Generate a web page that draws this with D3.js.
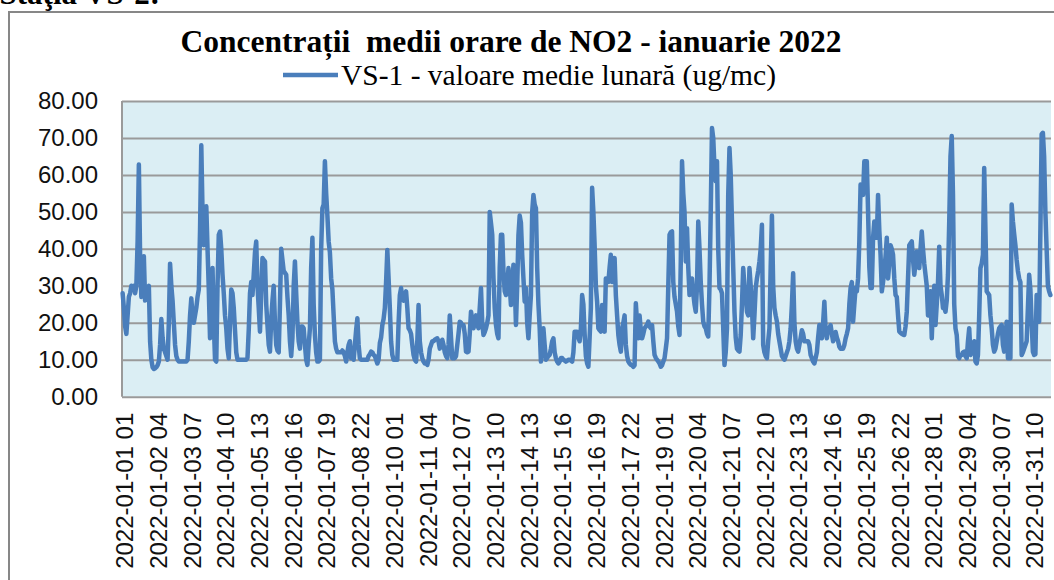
<!DOCTYPE html>
<html>
<head>
<meta charset="utf-8">
<script src="https://cdn.jsdelivr.net/npm/d3@7"></script>
<style>
  html, body { margin: 0; padding: 0; background: #fff; }
  svg { display: block; }
</style>
</head>
<body>
<svg id="chart" width="1054" height="580"></svg>
<script>
// ---- DATA ----
const title = "Concentrații  medii orare de NO2 - ianuarie 2022";
const seriesName = "VS-1 - valoare medie lunară (ug/mc)";
const yTicks = [0, 10, 20, 30, 40, 50, 60, 70, 80];
const tickLabels = [
  "2022-01-01 01","2022-01-02 04","2022-01-03 07","2022-01-04 10","2022-01-05 13",
  "2022-01-06 16","2022-01-07 19","2022-01-08 22","2022-01-10 01","2022-01-11 04",
  "2022-01-12 07","2022-01-13 10","2022-01-14 13","2022-01-15 16","2022-01-16 19",
  "2022-01-17 22","2022-01-19 01","2022-01-20 04","2022-01-21 07","2022-01-22 10",
  "2022-01-23 13","2022-01-24 16","2022-01-25 19","2022-01-26 22","2022-01-28 01",
  "2022-01-29 04","2022-01-30 07","2022-01-31 10"
];
const tickEvery = 27; // one label every 27 hourly categories
// hourly values (ug/mc), 24 per row, starting 2022-01-01 01:00
const values = [
  28,24,19,17,22,27,28,30,29,30,28,30,42,62.8,38,27,32,38,26,27,29,30,15,10,
  8,7.5,7.7,8,8.5,9.5,14,21,16,13,12,11,10,20,36,30,26,20,14,11,10,9.5,9.5,9.5,
  9.5,9.5,9.5,9.5,10,15,22,26.6,22,20,22,24,27,29,45,68,50,41,45,51.5,40,29,15.8,30,
  34.8,20,10,9.5,30,43.8,44.7,40,33,28,22,18.5,13,10.4,20,29,28,24,18,12,10,10,10,10,
  10,10,10,10,10.5,18,28,31,27.5,33,39,42,30,24,17.6,28,37.5,37,36.6,25,19.4,14,12.2,21,
  26,30,20,14,12.5,12,25,40,37,34,33.5,33,27,22,15,11,16,30,36.6,28,20,15,13,19,
  19,18.5,14,10,8.6,14,18.5,35,43,25,16.7,12,9.5,9.5,10,40,51,52,63.7,55,49,42,39,32,
  29,22,15,13,12,12,12,12,12.5,12,11,9.5,12,14,15,10.4,12,10,14,18,21.2,14,10.4,10,
  10,10,10,10,10,11,11.5,12.2,12,11.3,11,10,9,10,14.5,16,19.4,21,24,31,39.7,32,24,15,
  11.3,10,10,10,10,20,27.5,29.4,27,26,27,28.5,24,18.5,18,17,14,11.3,10,9.5,15,24.8,15,12,
  10.4,9.5,9,9,8.6,10,13,14,15,15,15.4,15.6,15.8,15,13,14,15.4,14,12,11,10.4,14,22,16,
  10.4,10.4,10.4,11,14,17,20.3,20,19.4,19.4,17,12.2,12,12.2,17,23,21,18.5,20,22,20,18.5,24,29.4,
  20,16.7,17.5,18.5,20,22,50,47,43.8,32,24,19.4,17,15.8,35,43.8,43.8,34,28.5,27.5,30,34.8,30,24.8,
  30,35.7,31,19.4,30,43.8,49,47,38.4,32,25.7,29.4,20,15.8,22,27.5,50,54.6,52,51,34.8,25,18.5,9.5,
  14,18.5,14,10,10.5,11,11.3,13,15,15.8,12,10.4,9.5,9,9.5,10.5,10.5,10,9.8,9.5,9.7,10,10,9.8,
  9.5,12,17.6,17.6,17.6,16,15,18.5,27.5,25,17,11,9,8.1,16,24,56.5,50,41,30,25.7,18.5,18,17.6,
  24.8,20,17.6,32,31,31,35,38.4,31,34,37.5,27.5,22,16.7,14,12.2,18.5,20,22,14,11,9.5,9,8.6,
  8.5,8.1,8.5,25.3,20,15.8,22,18,15.8,17,18.5,19,19.5,20.3,19,18.5,19.4,15,11.3,10.5,10,9.5,9,8.1,
  8.5,9.5,10.4,13,15.8,30,43.8,44.5,44.7,31,27,25,23,19,16.7,36.6,63.7,55,50,36.6,45.6,35,27.5,30,
  32,28,25,23,30,47.4,40,31,25,20.3,19,18.5,17,16.3,30,50,72.7,70,62,58.3,63.7,40,29.4,29,
  28,18.5,8.6,12,18.5,54.6,67.3,60,47.4,35,23,16,13,12.5,12.2,16.7,25,34.8,30,27.5,23,22,34.8,30,
  24,15.8,22,29.4,32,34,36.6,40,46.5,14,12,11,10.4,15,18.5,35,49,30,24,22,20.3,17,15,13,
  11,10.5,10,11,12,13,15,18.5,25,33.4,20,15,13,12.2,14,16,18,17,15,15,15,15,14,11.3,
  10.4,9.5,9,10.5,12,16,19.4,17,15.8,20,25.7,18,15.8,18.5,18.5,19.4,17,15,16,17.5,16,15,13.5,13,
  13,13,14,15.8,17,18.5,25,29.4,31,20.3,25,29.4,28.5,32,42,57.4,56,54.6,63.7,63.7,63.7,50,35,29.4,
  29.4,43,47.4,45,43,54.6,45,38.4,28.5,31,34,38,43,32,36,41,40,38.4,32,27.5,27,22,17.6,17.3,
  17,16.8,16.7,19,23,32,41,41.5,42,37,33,36,39.3,37,34.8,40,44.7,40,36,33,30,22,24,28.5,
  15.8,25,30,19.4,25,31,40.6,30,27.5,24,24,23,26,33,47.4,65,70.5,54.6,25,18.5,16.7,11,10.4,11.3,
  11.3,12,12.2,11,10.4,15,18.5,11.3,12,14,15,9.5,9,11.3,22,34.8,36,38.4,61.9,45,28.5,28,27.5,22,
  18.5,14,12.2,13,15,17,18.5,19,19.4,14,12.2,16,20.3,10.4,10.4,10.4,52,47.4,44,41,37,34,32,31,
  11.3,12,13,14,15,24,33,29,20,12.2,11.3,11.5,27.5,24,20.3,45,71,71.4,65,50,40,30,28.5,27.5
];

// ---- LAYOUT ----
const svg = d3.select("#chart");
const plot = { left: 122, right: 1051, top: 101, bottom: 396.7 };
const lineColor = "#4a7ebb";
const gridColor = "#9a9a9a";

// outer frame (chart area border)
svg.append("rect")
  .attr("x", 9).attr("y", 12).attr("width", 1100).attr("height", 700)
  .attr("fill", "#fff").attr("stroke", "#878787").attr("stroke-width", 2);

// fragment of the document text above the chart (cut by the page edge, as in the reference)
svg.append("text")
  .attr("x", 160).attr("y", 4)
  .attr("text-anchor", "end")
  .style("font-family", "'Liberation Serif', 'Times New Roman', serif")
  .style("font-weight", "bold").style("font-size", "31px")
  .text("Staţia VS-2:");

const x = d3.scaleBand().domain(d3.range(values.length)).range([plot.left, plot.right]).padding(0);
const y = d3.scaleLinear().domain([0, 80]).range([plot.bottom, plot.top]);
const cx = i => x(i) + x.bandwidth() / 2;

// plot background
svg.append("rect")
  .attr("x", plot.left).attr("y", plot.top)
  .attr("width", plot.right - plot.left).attr("height", plot.bottom - plot.top)
  .attr("fill", "#dbeef4");

// y axis with gridlines
const yAxis = svg.append("g")
  .attr("transform", `translate(${plot.left},0)`)
  .call(d3.axisLeft(y).tickValues(yTicks).tickFormat(d3.format(".2f"))
    .tickSize(-(plot.right - plot.left)).tickPadding(24));
yAxis.select(".domain").remove();
yAxis.selectAll(".tick line").attr("stroke", gridColor).attr("stroke-width", 2);
yAxis.selectAll(".tick text")
  .style("font-family", "'Liberation Sans', Arial, sans-serif")
  .style("font-size", "24px").attr("fill", "#111");

// left border of plot
svg.append("line")
  .attr("x1", plot.left).attr("x2", plot.left)
  .attr("y1", plot.top).attr("y2", plot.bottom)
  .attr("stroke", gridColor).attr("stroke-width", 2);

// x axis labels
const tickIdx = tickLabels.map((d, k) => k * tickEvery);
const xAxis = svg.append("g")
  .attr("transform", `translate(0,${plot.bottom})`)
  .call(d3.axisBottom(x).tickValues(tickIdx).tickFormat((d, k) => tickLabels[k]).tickSize(0));
xAxis.select(".domain").remove();
xAxis.selectAll(".tick text")
  .attr("transform", "rotate(-90)")
  .attr("x", -16).attr("y", 0).attr("dy", "0.44em")
  .style("text-anchor", "end")
  .style("font-family", "'Liberation Sans', Arial, sans-serif")
  .style("font-size", "24px").attr("fill", "#111");

// data line
const line = d3.line().x((d, i) => cx(i)).y(d => y(d)).curve(d3.curveLinear);
svg.append("path")
  .datum(values)
  .attr("d", line)
  .attr("fill", "none")
  .attr("stroke", lineColor)
  .attr("stroke-width", 4.5)
  .attr("stroke-linejoin", "round")
  .attr("stroke-linecap", "round");

// title
svg.append("text")
  .attr("x", 511).attr("y", 52)
  .attr("text-anchor", "middle")
  .style("font-family", "'Liberation Serif', 'Times New Roman', serif")
  .style("font-weight", "bold").style("font-size", "31.5px")
  .style("white-space", "pre")
  .text(title);

// legend
svg.append("line")
  .attr("x1", 283).attr("x2", 338).attr("y1", 75).attr("y2", 75)
  .attr("stroke", lineColor).attr("stroke-width", 4.5);
svg.append("text")
  .attr("x", 341).attr("y", 85)
  .style("font-family", "'Liberation Serif', 'Times New Roman', serif")
  .style("font-size", "29.5px")
  .text(seriesName);
</script>
</body>
</html>
